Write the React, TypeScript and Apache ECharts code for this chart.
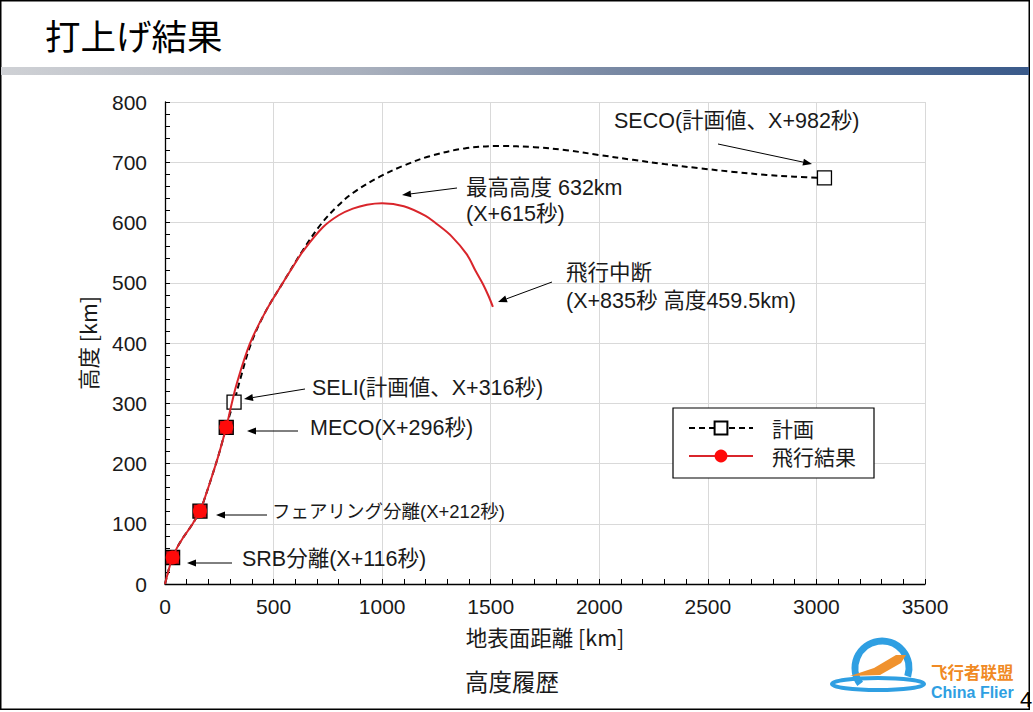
import React, { useEffect, useRef } from "react";
import * as echarts from "echarts";

// ---- data (ground distance [km], altitude [km]) ----
const flightDist = [0, 10, 22, 35, 55, 80, 105, 129, 161, 190, 220, 250, 282, 305, 330, 390, 460, 543, 590, 635, 727, 800, 865, 930, 1000, 1100, 1200, 1250, 1320, 1390, 1430, 1464, 1490, 1510];
const flightAlt = [0, 14, 30, 44, 60, 75, 88, 101, 121, 150, 183, 218, 260, 296, 332, 398, 450, 500, 527, 552, 592, 612, 623, 629.5, 632, 627, 611, 598, 577, 547, 520, 498, 478, 460];
const flightMarkerIdx = [3, 8, 12];

const planDist = [0, 10, 22, 35, 55, 80, 105, 129, 161, 190, 220, 250, 282, 300, 318, 345, 395, 460, 543, 635, 720, 791, 865, 989, 1096, 1219, 1380, 1542, 1700, 1849, 2000, 2155, 2300, 2462, 2620, 2769, 2900, 3037];
const planAlt = [0, 14, 30, 44, 60, 75, 88, 101, 121, 150, 183, 218, 260, 283, 302, 338, 398, 450, 500, 554, 598, 626, 649, 676, 694, 710, 723, 727, 725, 720, 712, 704, 697, 690, 684, 679, 676, 674];
const planMarkerIdx = [3, 8, 12, 14, 37];
const planFilledIdx = [3, 8, 12];

const xTicks = { min: 0, max: 3500, interval: 500 };
const yTicks = { min: 0, max: 800, interval: 100 };

const seriesNames = ["計画", "飛行結果"];

const LATIN = "'Liberation Sans', Arial, 'Noto Sans CJK JP', sans-serif";
const CJK = "'Noto Sans CJK JP', 'Liberation Sans', sans-serif";

function arrow(x1: number, y1: number, x2: number, y2: number) {
  const dx = x2 - x1, dy = y2 - y1;
  const len = Math.sqrt(dx * dx + dy * dy);
  const ux = dx / len, uy = dy / len;
  const hl = 9, hw = 3.5;
  const bx = x2 - ux * hl, by = y2 - uy * hl;
  const nx = -uy, ny = ux;
  return [
    { type: "line", shape: { x1, y1, x2: bx, y2: by }, style: { stroke: "#000", lineWidth: 1 }, z: 50 },
    {
      type: "polygon",
      shape: { points: [[x2, y2], [bx + nx * hw, by + ny * hw], [bx - nx * hw, by - ny * hw]] },
      style: { fill: "#000" },
      z: 50,
    },
  ];
}

function label(text: string, x: number, y: number, size = 21.5) {
  return {
    type: "text",
    x,
    y,
    z: 50,
    style: { text, fill: "#1a1a1a", font: `${size}px ${LATIN}`, textVerticalAlign: "middle", textAlign: "left" },
  };
}

export default function App() {
  const ref = useRef<HTMLDivElement>(null);
  useEffect(() => {
    if (!ref.current) return;
    const chart = echarts.init(ref.current, null, { renderer: "svg" });

    const planData = planDist.map((d, i) => {
      const item: any = { value: [d, planAlt[i]] };
      if (!planMarkerIdx.includes(i)) item.symbol = "none";
      if (planFilledIdx.includes(i)) item.itemStyle = { color: "#cc1218", borderColor: "#000" };
      return item;
    });
    const flightData = flightDist.map((d, i) => {
      const item: any = { value: [d, flightAlt[i]] };
      if (!flightMarkerIdx.includes(i)) item.symbol = "none";
      return item;
    });

    const graphics: any[] = [
      { type: "rect", shape: { x: 0.75, y: 0.75, width: 1028.5, height: 708.5 }, style: { fill: "none", stroke: "#000", lineWidth: 1.5 }, z: 1 },
      {
        type: "rect",
        shape: { x: 1, y: 67, width: 1028, height: 8 },
        style: {
          fill: new echarts.graphic.LinearGradient(0, 0, 1, 0, [
            { offset: 0, color: "#cfd1d5" },
            { offset: 0.35, color: "#a9b0bd" },
            { offset: 0.6, color: "#7888a3" },
            { offset: 1, color: "#3a5a8a" },
          ]),
        },
        z: 2,
      },
      { type: "text", x: 45, y: 34, style: { text: "打上げ結果", fill: "#000", font: `35.5px ${CJK}`, textVerticalAlign: "middle" }, z: 50 },
      { type: "text", x: 512, y: 681, style: { text: "高度履歴", fill: "#1a1a1a", font: `23.5px ${CJK}`, textAlign: "center", textVerticalAlign: "middle" }, z: 50 },
      label("SECO(計画値、X+982秒)", 614, 121),
      label("最高高度 632km", 466, 188),
      label("(X+615秒)", 466, 214),
      label("飛行中断", 566, 273),
      label("(X+835秒 高度459.5km)", 566, 301),
      label("SELI(計画値、X+316秒)", 312, 388),
      label("MECO(X+296秒)", 310, 428),
      label("フェアリング分離(X+212秒)", 272, 511, 18.5),
      label("SRB分離(X+116秒)", 242, 559),
      ...arrow(718, 144, 812, 164),
      ...arrow(457, 188, 402, 195),
      ...arrow(552, 282, 498, 302),
      ...arrow(305, 389, 244, 399),
      ...arrow(298, 431, 247, 431),
      ...arrow(267, 515, 216, 515),
      ...arrow(232, 563, 187, 563),
      // watermark logo
      { type: "arc", shape: { cx: 882, cy: 668, r: 27, startAngle: Math.PI * 0.8, endAngle: Math.PI * 2.1, clockwise: true }, style: { stroke: "#2f9fe2", lineWidth: 7, fill: "none" }, z: 40 },
      { type: "ellipse", shape: { cx: 878, cy: 684, rx: 46, ry: 6 }, style: { stroke: "#2f9fe2", lineWidth: 4, fill: "none" }, z: 40 },
      { type: "polygon", shape: { points: [[850, 676], [874, 668], [896, 655], [906, 655], [901, 663], [880, 675]] }, style: { fill: "#f0922e" }, z: 41 },
      { type: "text", x: 931, y: 672, style: { text: "飞行者联盟", fill: "#f08a24", font: `bold 16.5px ${CJK}`, textVerticalAlign: "middle" }, z: 41 },
      { type: "text", x: 931, y: 692, style: { text: "China Flier", fill: "#2f9fe2", font: `bold 16px ${LATIN}`, textVerticalAlign: "middle" }, z: 41 },
      { type: "text", x: 1020, y: 699, style: { text: "4", fill: "#000", font: `22px ${LATIN}`, textVerticalAlign: "middle" }, z: 42 },
    ];

    const option: any = {
      animation: false,
      backgroundColor: "#fff",
      grid: { left: 165, top: 102, right: 108, bottom: 128, containLabel: false },
      legend: {
        orient: "vertical",
        left: 673,
        top: 408,
        data: seriesNames,
        backgroundColor: "#fff",
        borderColor: "#000",
        borderWidth: 1.2,
        padding: [9, 18, 11, 15],
        itemGap: 6,
        itemWidth: 64,
        itemHeight: 16,
        textStyle: { fontSize: 21, fontFamily: CJK, color: "#1a1a1a", lineHeight: 22, padding: [0, 0, 0, 14] },
        z: 60,
      },
      xAxis: {
        type: "value",
        min: xTicks.min,
        max: xTicks.max,
        interval: xTicks.interval,
        name: "地表面距離 [km]",
        nameLocation: "middle",
        nameGap: 42,
        nameTextStyle: { fontSize: 21.5, fontFamily: CJK, color: "#1a1a1a" },
        axisLine: { show: true, lineStyle: { color: "#000", width: 1.3 } },
        axisTick: { show: true, inside: true, length: 5, lineStyle: { color: "#000" } },
        minorTick: { show: true, splitNumber: 5, length: 5, lineStyle: { color: "#000" } },
        axisLabel: { fontSize: 21, fontFamily: LATIN, color: "#1a1a1a", margin: 12, formatter: (v: number) => String(v) },
        splitLine: { show: true, lineStyle: { color: "#d9d9d9", width: 1 } },
      },
      yAxis: {
        type: "value",
        min: yTicks.min,
        max: yTicks.max,
        interval: yTicks.interval,
        name: "高度 [km]",
        nameLocation: "middle",
        nameGap: 67,
        nameTextStyle: { fontSize: 21.5, fontFamily: CJK, color: "#1a1a1a" },
        axisLine: { show: true, lineStyle: { color: "#000", width: 1.3 } },
        axisTick: { show: true, inside: true, length: 5, lineStyle: { color: "#000" } },
        minorTick: { show: true, splitNumber: 5, length: 5, lineStyle: { color: "#000" } },
        axisLabel: { fontSize: 21, fontFamily: LATIN, color: "#1a1a1a", margin: 18, formatter: (v: number) => String(v) },
        splitLine: { show: true, lineStyle: { color: "#d9d9d9", width: 1 } },
      },
      series: [
        {
          name: seriesNames[0],
          type: "line",
          data: planData,
          smooth: 0.35,
          symbol: "rect",
          symbolSize: 14,
          showAllSymbol: true,
          lineStyle: { color: "#000", width: 2, type: [6, 4] },
          itemStyle: { color: "#fff", borderColor: "#000", borderWidth: 1.3 },
          z: 3,
        },
        {
          name: seriesNames[1],
          type: "line",
          data: flightData,
          smooth: 0.35,
          symbol: "circle",
          symbolSize: 14,
          showAllSymbol: true,
          lineStyle: { color: "#d9252b", width: 2 },
          itemStyle: { color: "#ff0a0a", borderWidth: 0 },
          z: 4,
        },
      ],
      graphic: graphics,
    };
    chart.setOption(option);
    return () => chart.dispose();
  }, []);
  return <div ref={ref} style={{ position: "fixed", left: 0, top: 0, width: 1033, height: 712, background: "#fff" }} />;
}
